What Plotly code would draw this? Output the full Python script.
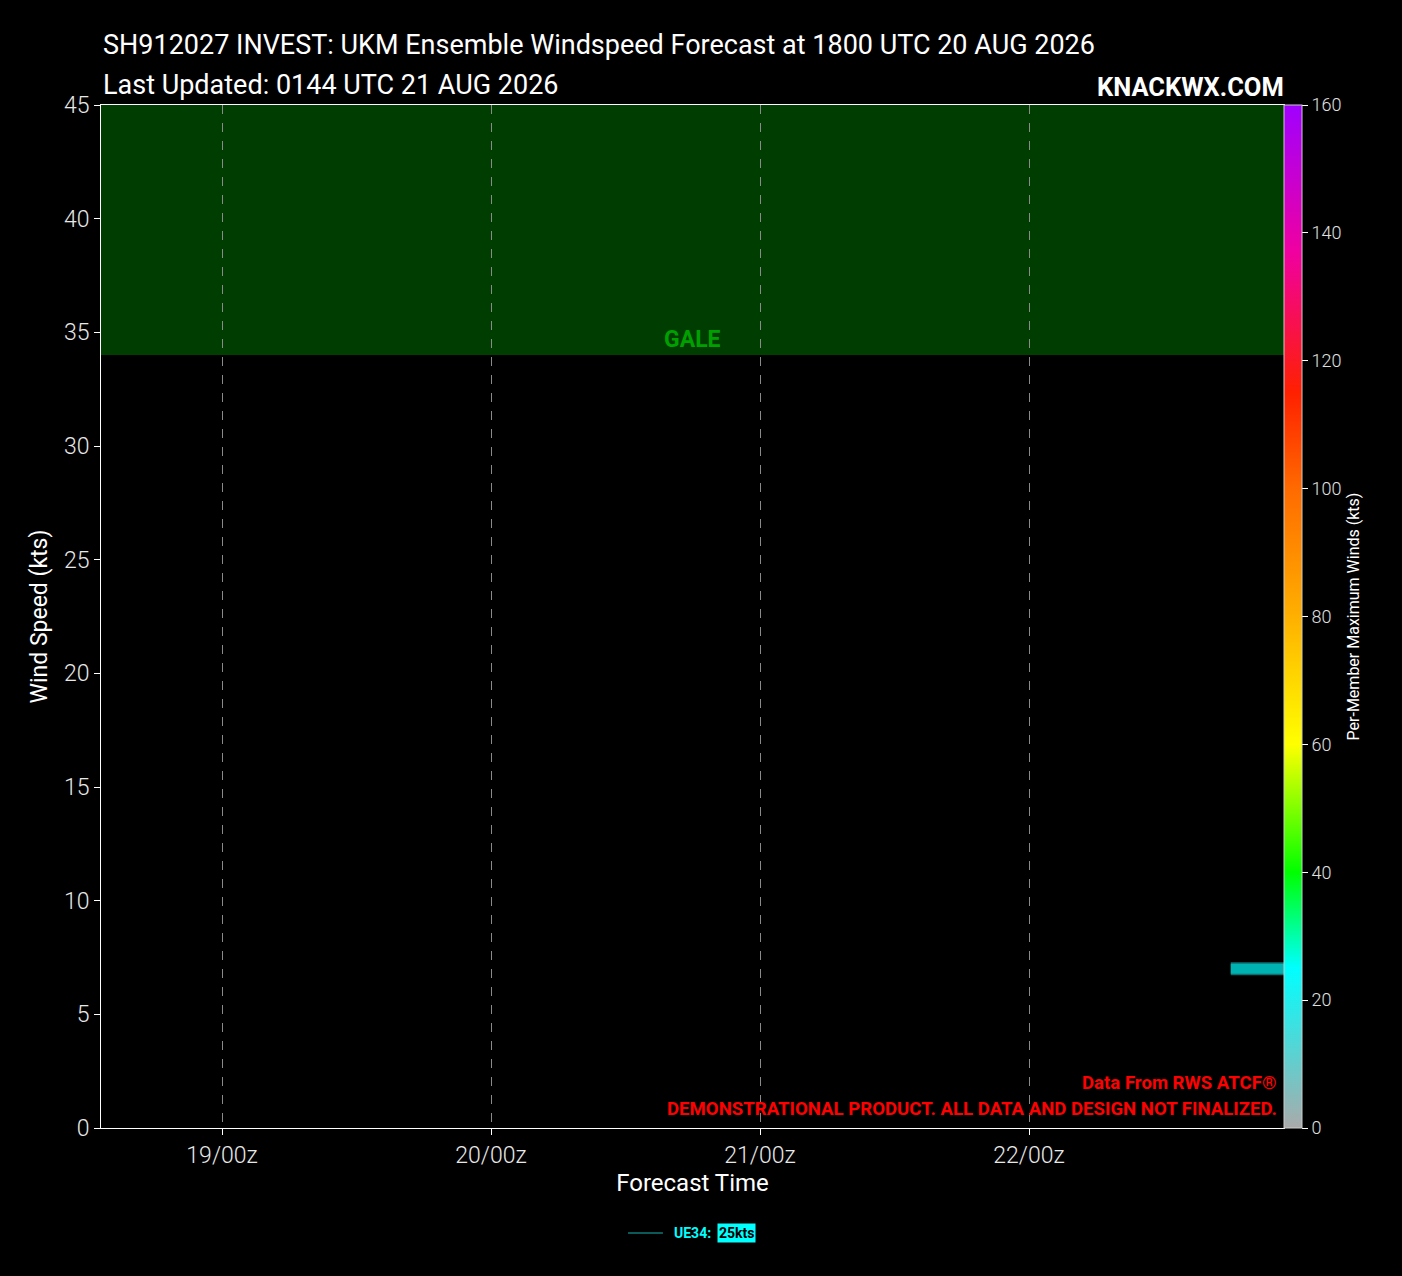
import plotly.graph_objects as go

# member track (UKM ensemble member UE34)
member_name = "UE34"
member_peak = 25
member_times = ["2026-08-22 18:00", "2026-08-23 00:00"]
member_winds = [7, 7]

day_ticks = ["2026-08-19", "2026-08-20", "2026-08-21", "2026-08-22"]
day_labels = ["19/00z", "20/00z", "21/00z", "22/00z"]
x_range = ["2026-08-18 13:12", "2026-08-22 22:45"]

gale_low, gale_high = 34, 45

FONT = "Roboto, sans-serif"

# per-member wind colour scale (0-160 kts)
wind_scale = [
    [0.0, "#aaaaaa"],
    [25 / 160, "#00ffff"],
    [40 / 160, "#00ff00"],
    [60 / 160, "#ffff00"],
    [80 / 160, "#ffb000"],
    [100 / 160, "#ff6a00"],
    [115 / 160, "#ff2000"],
    [137 / 160, "#f000a0"],
    [1.0, "#a000ff"],
]

fig = go.Figure()

# thick member line with darker edge
fig.add_trace(go.Scatter(x=member_times, y=member_winds, mode="lines",
                         line=dict(color="#0b6f6f", width=13),
                         showlegend=False, hoverinfo="skip"))
fig.add_trace(go.Scatter(x=member_times, y=member_winds, mode="lines",
                         line=dict(color="#00b2b2", width=10),
                         showlegend=False, name=member_name))

# colorbar carrier
fig.add_trace(go.Scatter(
    x=[member_times[0]], y=[member_winds[0]], mode="markers",
    marker=dict(size=1, opacity=0, color=[member_peak], cmin=0, cmax=160,
                colorscale=wind_scale, showscale=True,
                colorbar=dict(thickness=18, len=1, lenmode="fraction",
                              x=1.0, xanchor="left", xpad=0, y=0.5, yanchor="middle", ypad=0,
                              outlinewidth=1, outlinecolor="#cccccc",
                              tickvals=[0, 20, 40, 60, 80, 100, 120, 140, 160],
                              ticks="outside", ticklen=6, tickcolor="white",
                              tickfont=dict(size=18, color="#e0e0e0", family=FONT, weight=300),
                              title=dict(text="Per-Member Maximum Winds (kts)", side="right",
                                         font=dict(size=16, color="white", family=FONT)))),
    showlegend=False, hoverinfo="skip"))

# gale band
fig.add_shape(type="rect", xref="paper", x0=0, x1=1, yref="y", y0=gale_low, y1=gale_high,
              fillcolor="#003d00", line_width=0, layer="below")
fig.add_annotation(text="<b>GALE</b>", xref="paper", x=0.5, yref="y", y=gale_low,
                   yanchor="bottom", showarrow=False,
                   font=dict(size=23, color="#00a000", family=FONT))

# titles
fig.add_annotation(text="SH912027 INVEST: UKM Ensemble Windspeed Forecast at 1800 UTC 20 AUG 2026",
                   xref="paper", x=0, xanchor="left", yref="paper", y=1.0587, yanchor="middle",
                   showarrow=False, font=dict(size=27, color="white", family=FONT))
fig.add_annotation(text="Last Updated: 0144 UTC 21 AUG 2026",
                   xref="paper", x=0, xanchor="left", yref="paper", y=1.0196, yanchor="middle",
                   showarrow=False, font=dict(size=27, color="white", family=FONT))
fig.add_annotation(text="<b>KNACKWX.COM</b>",
                   xref="paper", x=1.002, xanchor="right", yref="paper", y=1.0176, yanchor="middle",
                   showarrow=False, font=dict(size=25.5, color="white", family=FONT))

# disclaimer
fig.add_annotation(text="<b>Data From RWS ATCF®</b>",
                   xref="paper", x=0.996, xanchor="right", yref="paper", y=0.0440, yanchor="middle",
                   showarrow=False, font=dict(size=18.6, color="#ff0000", family=FONT))
fig.add_annotation(text="<b>DEMONSTRATIONAL PRODUCT. ALL DATA AND DESIGN NOT FINALIZED.</b>",
                   xref="paper", x=0.996, xanchor="right", yref="paper", y=0.0186, yanchor="middle",
                   showarrow=False, font=dict(size=18.6, color="#ff0000", family=FONT))

# hand-made legend
fig.add_shape(type="line", xref="paper", x0=0.4455, x1=0.475, yref="paper", y0=-0.1026, y1=-0.1026,
              line=dict(color="#0b5a5a", width=2))
fig.add_annotation(text="<b>%s:</b>" % member_name, xref="paper", x=0.5173, xanchor="right",
                   yref="paper", y=-0.1026, yanchor="middle", showarrow=False,
                   font=dict(size=14, color="#00ffff", family=FONT))
fig.add_annotation(text="<b>%dkts</b>" % member_peak, xref="paper", x=0.5207, xanchor="left",
                   yref="paper", y=-0.1026, yanchor="middle", showarrow=False,
                   bgcolor="#00ffff", borderpad=1,
                   font=dict(size=14, color="black", family=FONT))

fig.update_layout(
    width=1402, height=1276,
    margin=dict(l=101, r=118, t=105, b=148),
    paper_bgcolor="black", plot_bgcolor="black",
    font=dict(family=FONT, color="white"),
    showlegend=False,
    xaxis=dict(type="date", range=x_range, tickvals=day_ticks, ticktext=day_labels,
               showgrid=True, gridcolor="#8a8a8a", griddash="dash", gridwidth=1,
               showline=True, linecolor="white", linewidth=1, mirror=True,
               ticks="outside", ticklen=6, tickcolor="white", zeroline=False,
               tickfont=dict(size=23, color="#e8e8e8", weight=300),
               title=dict(text="Forecast Time", font=dict(size=24, color="white"), standoff=6)),
    yaxis=dict(range=[0, 45], tickvals=list(range(0, 50, 5)), showgrid=False, zeroline=False,
               showline=True, linecolor="white", linewidth=1, mirror=True,
               ticks="outside", ticklen=6, tickcolor="white",
               tickfont=dict(size=23, color="#e8e8e8", weight=300),
               title=dict(text="Wind Speed (kts)", font=dict(size=23, color="white"), standoff=9)),
)

fig.write_html("out.html", config={"displayModeBar": False},
               post_script="document.body.style.margin='0';document.body.style.background='black';")
